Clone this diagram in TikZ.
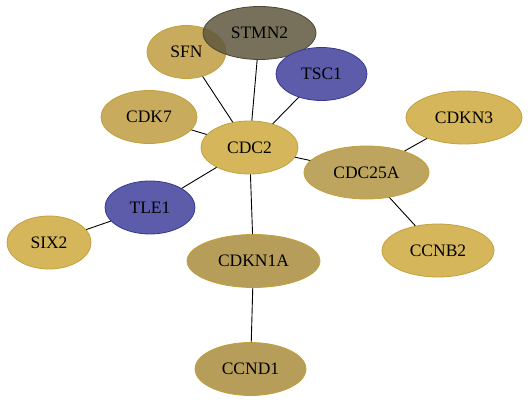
\documentclass[tikz,border=0pt]{standalone}
\usepackage{fontspec}
\setmainfont{Liberation Serif}
\usetikzlibrary{shapes.geometric}
\definecolor{goldA}{RGB}{213,182,90}
\definecolor{goldB}{RGB}{200,171,92}
\definecolor{goldC}{RGB}{190,165,95}
\definecolor{goldD}{RGB}{182,158,90}
\definecolor{goldline}{RGB}{196,160,60}
\definecolor{geneblue}{RGB}{92,92,170}
\definecolor{blueline}{RGB}{55,55,150}
\definecolor{stmngray}{RGB}{95,88,62}
\begin{document}
\begin{tikzpicture}[x=1pt,y=-1pt,
    gene/.style={ellipse,draw=goldline,line width=0.8pt,inner sep=0pt,font=\fontsize{17.5}{18}\selectfont,minimum height=53pt},
    bluegene/.style={gene,draw=blueline,fill=geneblue}]
    \useasboundingbox (0,0) rectangle (528,403);

    \node[gene,fill=goldB,minimum width=79pt] (SFN) at (186.5,52) {SFN};
    \node[gene,fill=stmngray,draw=stmngray!80!black,fill opacity=0.85,text opacity=1,minimum width=113pt] (STMN2) at (259.5,33) {STMN2};
    \node[bluegene,minimum width=91pt] (TSC1) at (321.5,74) {TSC1};
    \node[gene,fill=goldB,minimum width=96pt] (CDK7) at (149,117) {CDK7};
    \node[gene,fill=goldA,minimum width=97pt] (CDC2) at (249.5,147.5) {CDC2};
    \node[gene,fill=goldA,minimum width=116pt] (CDKN3) at (464,117.5) {CDKN3};
    \node[gene,fill=goldC,minimum width=125pt] (CDC25A) at (366.5,172.5) {CDC25A};
    \node[bluegene,minimum width=90pt] (TLE1) at (150,207.5) {TLE1};
    \node[gene,fill=goldA,minimum width=84pt] (SIX2) at (49,242.5) {SIX2};
    \node[gene,fill=goldD,minimum width=133pt] (CDKN1A) at (253.5,261) {CDKN1A};
    \node[gene,fill=goldA,minimum width=112pt] (CCNB2) at (438,250.5) {CCNB2};
    \node[gene,fill=goldD,minimum width=111pt] (CCND1) at (250.5,369) {CCND1};

    \foreach \a/\b in {SFN/CDC2,STMN2/CDC2,TSC1/CDC2,CDK7/CDC2,CDC2/CDC25A,CDC2/TLE1,
        CDC2/CDKN1A,TLE1/SIX2,CDC25A/CDKN3,CDC25A/CCNB2,CDKN1A/CCND1}
        \draw[line width=0.9pt] (\a) -- (\b);
  \end{tikzpicture}
\end{document}
